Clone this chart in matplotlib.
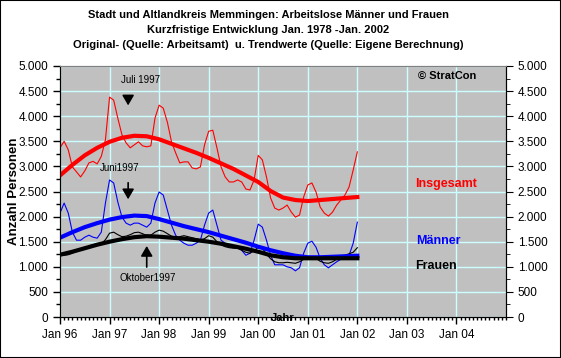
import numpy as np
import matplotlib
matplotlib.use('Agg')
import matplotlib.pyplot as plt
from matplotlib.ticker import MultipleLocator, FuncFormatter
from matplotlib.patches import Rectangle

plt.rcParams['font.family'] = ['Liberation Sans', 'DejaVu Sans']

# monthly values Jan 1996 .. Jan 2002
insgesamt = [3370, 3500, 3330, 2990, 2890, 2790, 2910, 3070, 3100, 3050, 3200, 3530,
             4380, 4320, 3960, 3630, 3470, 3370, 3430, 3490, 3410, 3390, 3410, 3960,
             4220, 4160, 3880, 3490, 3270, 3070, 3090, 3090, 2970, 2950, 2990, 3430,
             3700, 3720, 3370, 2990, 2790, 2690, 2690, 2730, 2690, 2550, 2530, 2730,
             3220, 3130, 2790, 2370, 2170, 2130, 2170, 2230, 2090, 1990, 2030, 2390,
             2630, 2670, 2490, 2190, 2070, 2010, 2090, 2230, 2330, 2430, 2590, 2930,
             3290]
maenner = [2070, 2270, 2070, 1690, 1530, 1530, 1590, 1630, 1590, 1570, 1690, 2270,
           2730, 2670, 2290, 1990, 1870, 1830, 1870, 1870, 1830, 1790, 1870, 2270,
           2490, 2430, 2130, 1830, 1630, 1530, 1470, 1430, 1430, 1470, 1530, 1830,
           2070, 2130, 1830, 1530, 1470, 1390, 1390, 1390, 1330, 1230, 1270, 1530,
           1850, 1790, 1530, 1230, 1040, 1040, 1040, 1000, 980, 920, 980, 1270,
           1470, 1510, 1390, 1170, 1040, 980, 1040, 1100, 1150, 1170, 1230, 1470,
           1890]
frauen = [1250, 1230, 1240, 1270, 1330, 1350, 1380, 1410, 1440, 1440, 1460, 1540,
          1670, 1690, 1640, 1600, 1610, 1640, 1680, 1690, 1660, 1620, 1630, 1690,
          1730, 1710, 1660, 1610, 1590, 1600, 1620, 1600, 1580, 1560, 1540, 1560,
          1620, 1590, 1500, 1440, 1400, 1380, 1370, 1370, 1330, 1290, 1270, 1320,
          1390, 1370, 1250, 1160, 1100, 1080, 1080, 1090, 1080, 1070, 1100, 1150,
          1190, 1200, 1170, 1110, 1080, 1070, 1100, 1150, 1200, 1230, 1260, 1290,
          1380]

# trend values, quarterly Jan 1996 .. Jan 2002
trend_ins = [2820, 3030, 3220, 3370, 3490, 3570, 3610, 3600, 3540, 3450, 3360, 3270,
             3170, 3060, 2950, 2820, 2690, 2510, 2380, 2330, 2310, 2330, 2350, 2370, 2390]
trend_mae = [1580, 1690, 1790, 1870, 1940, 1990, 2020, 2010, 1950, 1880, 1810, 1750,
             1690, 1620, 1550, 1480, 1400, 1330, 1270, 1220, 1190, 1190, 1200, 1210, 1220]
trend_fra = [1240, 1300, 1370, 1440, 1500, 1550, 1590, 1610, 1600, 1580, 1560, 1530,
             1500, 1460, 1410, 1360, 1300, 1230, 1190, 1170, 1170, 1170, 1170, 1170, 1170]

year_labels = ['Jan 96', 'Jan 97', 'Jan 98', 'Jan 99', 'Jan 00', 'Jan 01', 'Jan 02', 'Jan 03', 'Jan 04']

m = np.arange(len(insgesamt))
q = np.arange(len(trend_ins)) * 3

fig = plt.figure(figsize=(5.61, 3.58), dpi=100)
fig.patches.append(Rectangle((0, 0), 1, 1, transform=fig.transFigure, fill=False,
                             edgecolor='black', linewidth=1.5))
ax = fig.add_axes([60 / 561, 41 / 358, 446 / 561, 251 / 358])
ax.set_facecolor('#c0c0c0')

ax.set_xlim(0, 108)
ax.set_ylim(0, 5000)
ax.xaxis.set_minor_locator(MultipleLocator(1))
ax.yaxis.set_major_locator(MultipleLocator(500))
ax.yaxis.set_minor_locator(MultipleLocator(250))
ax.set_xticks(np.arange(0, 108, 12))
ax.set_xticklabels(year_labels)
fmt = FuncFormatter(lambda v, p: f'{int(v):,}'.replace(',', '.'))
ax.yaxis.set_major_formatter(fmt)
ax.grid(True, which='major', color='#ccffff', linewidth=1)
ax.set_axisbelow(True)
ax.tick_params(which='major', direction='out', length=5, labelsize=8.5, width=1)
ax.tick_params(which='minor', direction='out', length=3, width=1)
ax.tick_params(axis='x', which='minor', length=2)
ax.spines['top'].set_color('#808080')
ax.spines['right'].set_color('black')

ax2 = ax.twinx()
ax2.set_ylim(0, 5000)
ax2.yaxis.set_major_locator(MultipleLocator(500))
ax2.yaxis.set_minor_locator(MultipleLocator(250))
ax2.yaxis.set_major_formatter(fmt)
ax2.tick_params(which='major', direction='out', length=5, labelsize=8.5)
ax2.tick_params(which='minor', direction='out', length=3)
ax2.spines['top'].set_color('#808080')

ax.plot(m, insgesamt, color='#ff0000', lw=0.8)
ax.plot(m, maenner, color='#0000ff', lw=0.8)
ax.plot(m, frauen, color='black', lw=0.8)
ax.plot(q, trend_ins, color='#ff0000', lw=3)
ax.plot(q, trend_mae, color='#0000ff', lw=3)
ax.plot(q, trend_fra, color='black', lw=3)

arrow = dict(arrowstyle='-|>,head_width=0.35,head_length=0.6', color='black', lw=1.2)
ax.text(19.4, 4720, 'Juli 1997', fontsize=7, ha='center', va='center')
ax.annotate('', xy=(16.5, 4160), xytext=(16.5, 4420), arrowprops=arrow)
ax.text(14.5, 2970, 'Juni1997', fontsize=7, ha='center', va='center')
ax.annotate('', xy=(16.5, 2290), xytext=(16.5, 2730), arrowprops=arrow)
ax.text(21.3, 780, 'Oktober1997', fontsize=7, ha='center', va='center')
ax.annotate('', xy=(21, 1470), xytext=(21, 940), arrowprops=arrow)

ax.set_ylabel('Anzahl Personen', fontsize=9.5, fontweight='bold', va='center')
ax.yaxis.set_label_coords(-46 / 446, 0.5)

def ftext(x, y, s, **kw):
    fig.text(x / 561, 1 - y / 358, s, **kw)

ftext(268, 15, 'Stadt und Altlandkreis Memmingen: Arbeitslose Männer und Frauen',
      ha='center', va='center', fontsize=8, fontweight='bold')
ftext(268, 30, 'Kurzfristige Entwicklung Jan. 1978 -Jan. 2002',
      ha='center', va='center', fontsize=8, fontweight='bold')
ftext(268, 45, 'Original- (Quelle: Arbeitsamt)  u. Trendwerte (Quelle: Eigene Berechnung)',
      ha='center', va='center', fontsize=8, fontweight='bold')
ftext(447, 76, '© StratCon', ha='center', va='center', fontsize=8, fontweight='bold')
ftext(415, 184, 'Insgesamt', ha='left', va='center', fontsize=9, fontweight='bold', color='#ff0000')
ftext(416, 241, 'Männer', ha='left', va='center', fontsize=9, fontweight='bold', color='#0000ff')
ftext(415, 266, 'Frauen', ha='left', va='center', fontsize=9, fontweight='bold', color='black')
ftext(283, 318, 'Jahr', ha='center', va='center', fontsize=8, fontweight='bold')

fig.savefig('out.png', dpi=100)
